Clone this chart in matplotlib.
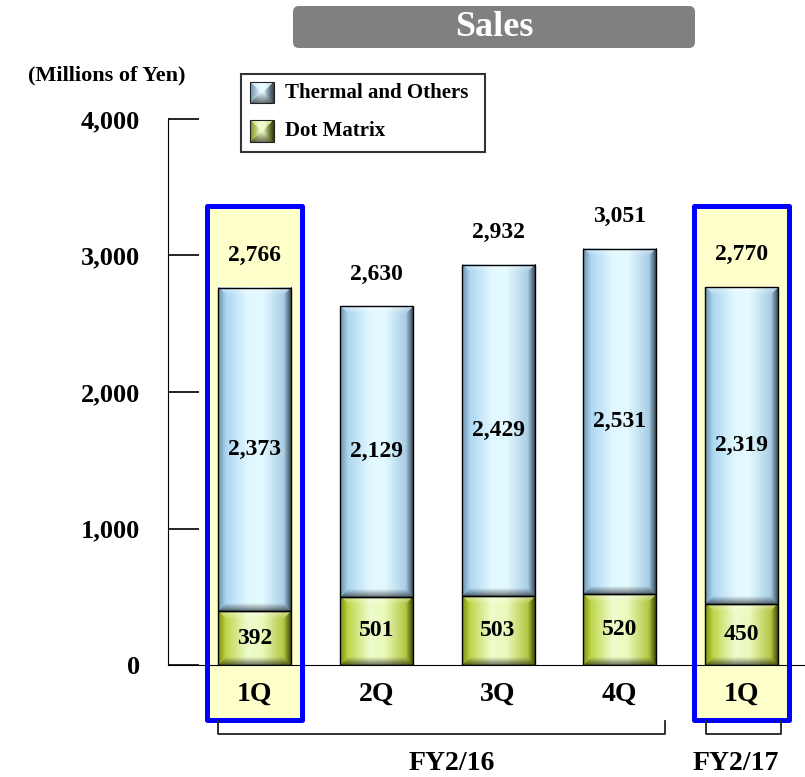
import matplotlib
matplotlib.use("Agg")
import matplotlib.pyplot as plt
import numpy as np
from matplotlib.patches import Rectangle, FancyBboxPatch

plt.rcParams['font.family'] = ['Liberation Serif', 'DejaVu Serif']
plt.rcParams['font.weight'] = 'bold'

quarters = ['1Q', '2Q', '3Q', '4Q', '1Q']
dot_matrix = [392, 501, 503, 520, 450]
thermal = [2373, 2129, 2429, 2531, 2319]
totals = [2766, 2630, 2932, 3051, 2770]
highlighted = [0, 4]
fiscal_years = ['FY2/16', 'FY2/17']
fy_spans = [(0, 3), (4, 4)]
yticks = [0, 1000, 2000, 3000, 4000]

W, H = 805, 777
fig = plt.figure(figsize=(W / 100, H / 100), dpi=100)
ax = fig.add_axes([168 / W, (H - 665) / H, (W - 168) / W, 546 / H])
ax.set_xlim(-0.71, 4.52)
ax.set_ylim(0, 4000)

green_stops = [(0.0, (0.68, 0.78, 0.10)), (0.4, (0.93, 0.99, 0.80)),
               (0.6, (0.92, 0.98, 0.74)), (1.0, (0.62, 0.70, 0.08))]
blue_stops = [(0.0, (0.60, 0.79, 0.92)), (0.4, (0.88, 0.97, 1.00)),
              (0.6, (0.89, 0.98, 1.00)), (1.0, (0.58, 0.74, 0.86))]


def bevel_image(h, w, stops, b=8):
    h = max(int(round(h)), 2)
    w = max(int(round(w)), 2)
    yy, xx = np.mgrid[0:h, 0:w] + 0.5
    u = xx / w
    pos = [s[0] for s in stops]
    base = np.stack([np.interp(u, pos, [s[1][c] for s in stops]) for c in range(3)], axis=-1)
    dists = np.stack([xx, w - xx, yy, h - yy])
    d = dists.min(axis=0)
    side = dists.argmin(axis=0)
    t = np.clip(d / b, 0, 1)[..., None]
    edges = [base * 0.72,                      # left
             base * 0.32,                      # right
             base * 0.55 + 0.45,               # top
             base * 0.45]                      # bottom
    img = base.copy()
    for k, e in enumerate(edges):
        m = (side == k)[..., None]
        img = np.where(m, e * (1 - t) + base * t, img)
    return np.clip(img, 0, 1)


def to_px(a, x0, y0, x1, y1):
    p = a.transData.transform([(x0, y0), (x1, y1)])
    return abs(p[1][1] - p[0][1]), abs(p[1][0] - p[0][0])


x = np.arange(len(quarters))
width = 0.6

# highlighted columns
for i in highlighted:
    ax.add_patch(Rectangle((i - 0.39, -400), 0.78, 3760, facecolor='#ffffcc',
                           edgecolor='none', zorder=0.5, clip_on=False))
    ax.add_patch(Rectangle((i - 0.39, -400), 0.78, 3760, facecolor='none',
                           edgecolor='#0000ff', lw=3.6, joinstyle='round',
                           zorder=4, clip_on=False))

b1 = ax.bar(x, dot_matrix, width, facecolor='none', edgecolor='black', lw=1, zorder=3)
b2 = ax.bar(x, thermal, width, bottom=dot_matrix, facecolor='none',
            edgecolor='black', lw=1, zorder=3)

for bars, stops in [(b1, green_stops), (b2, blue_stops)]:
    for p in bars:
        x0, y0 = p.get_x(), p.get_y()
        x1, y1 = x0 + p.get_width(), y0 + p.get_height()
        hp, wp = to_px(ax, x0, y0, x1, y1)
        ax.imshow(bevel_image(hp, wp, stops), extent=(x0, x1, y0, y1),
                  origin='upper', aspect='auto', zorder=2, interpolation='bilinear')

ax.set_xlim(-0.71, 4.52)
ax.set_ylim(0, 4000)

for i in range(len(quarters)):
    ax.text(x[i], dot_matrix[i] / 2, f'{dot_matrix[i]:,}', ha='center', va='center',
            fontsize=17, fontweight='bold', zorder=5)
    ax.text(x[i], dot_matrix[i] + thermal[i] / 2, f'{thermal[i]:,}', ha='center',
            va='center', fontsize=17, fontweight='bold', zorder=5)
    ax.annotate(f'{totals[i]:,}', (x[i], totals[i]), xytext=(0, 23), textcoords='offset points',
                ha='center', va='center', fontsize=17, fontweight='bold', zorder=5)

ax.spines['top'].set_visible(False)
ax.spines['right'].set_visible(False)
ax.set_yticks(yticks)
ax.set_yticklabels([f'{v:,}' for v in yticks], fontsize=19, fontweight='bold')
ax.tick_params(axis='y', direction='in', length=22, width=1.2, pad=20)
ax.set_xticks(x)
ax.set_xticklabels(quarters, fontsize=20, fontweight='bold')
ax.tick_params(axis='x', length=0, pad=12)
ax.patch.set_visible(False)

# fiscal year brackets
fy_label_x = [1.62, 3.955]
for (a, b), label, lx in zip(fy_spans, fiscal_years, fy_label_x):
    left = a - 0.30 if a == 0 else a - 0.29
    right = b + 0.37 if b == 3 else b + 0.32
    ax.plot([left, left, right, right], [-410, -505, -505, -410], color='#222222',
            lw=1.3, clip_on=False, zorder=4)
    ax.text(lx, -718, label, ha='center', va='center', fontsize=20,
            fontweight='bold', clip_on=False)

# overlay in pixel coordinates for title, unit and legend
ov = fig.add_axes([0, 0, 1, 1])
ov.set_xlim(0, W)
ov.set_ylim(H, 0)
ov.axis('off')
ov.add_patch(FancyBboxPatch((293, 6), 402, 42, boxstyle='round,pad=0,rounding_size=6',
                            facecolor='#808080', edgecolor='none'))
ov.text(494, 27, 'Sales', color='white', ha='center', va='center', fontsize=26,
        fontweight='bold')
ov.text(107, 75, '(Millions of Yen)', ha='center', va='center', fontsize=16,
        fontweight='bold')

ov.add_patch(Rectangle((241, 74), 244, 78, facecolor='white', edgecolor='#333333',
                       lw=1.5, zorder=1))
legend_rows = [('Thermal and Others', blue_stops, 82, 103),
               ('Dot Matrix', green_stops, 120, 142)]
for label, stops, top, bottom in legend_rows:
    ov.imshow(bevel_image(bottom - top, 24, stops, b=11), extent=(250, 274, bottom, top),
              origin='upper', aspect='auto', interpolation='bilinear', zorder=2)
    ov.add_patch(Rectangle((250, top), 24, bottom - top, facecolor='none',
                           edgecolor='#222222', lw=0.8, zorder=3))
    ov.text(285, (top + bottom) / 2, label, ha='left', va='center', fontsize=15,
            fontweight='bold', zorder=3)
ov.set_xlim(0, W)
ov.set_ylim(H, 0)

fig.savefig('out.png', dpi=100)
